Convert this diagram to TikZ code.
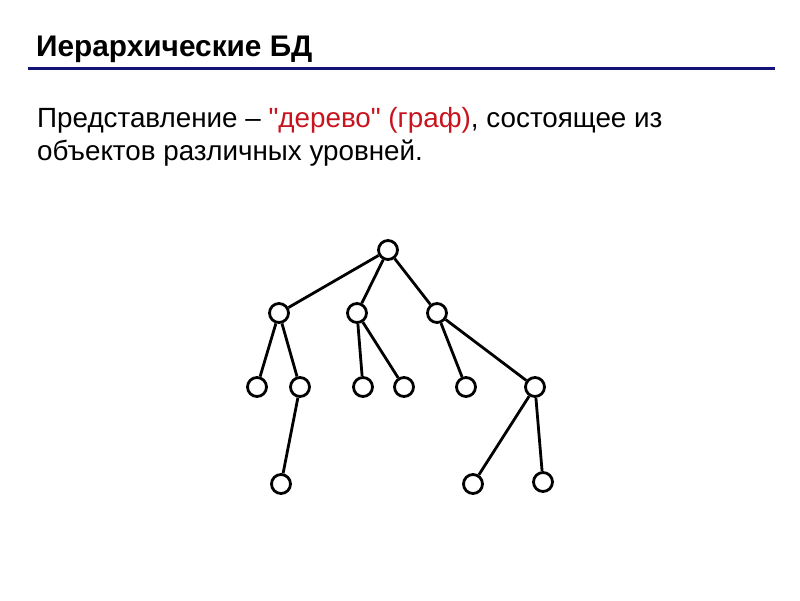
\documentclass[tikz,border=0pt]{standalone}
\usepackage{fontspec}
\setmainfont{Liberation Sans}[Ligatures=TeXOff]
\definecolor{navyline}{RGB}{20,20,120}
\definecolor{redtext}{RGB}{200,20,30}
\begin{document}
\begin{tikzpicture}[x=1pt,y=-1pt,
  vert/.style={circle,draw=black,line width=2.8pt,fill=white,minimum size=19pt,inner sep=0pt},
  edge/.style={line width=2.8pt}]
\useasboundingbox (0,0) rectangle (800,600);
\fill[white] (0,0) rectangle (800,600);
% title
\node[anchor=base west,inner sep=0pt,font=\fontsize{29.8}{32}\selectfont\bfseries] (title) at (36,56) {Иерархические БД};
\coordinate (l1) at (28,68.5);
\coordinate (l2) at (775,68.5);
\draw[navyline,line width=3pt] (l1) -- (l2);
% body text
\node[anchor=base west,inner sep=0pt,font=\fontsize{27.8}{32}\selectfont] (line1) at (37,127.5) {Представление – \textcolor{redtext}{"дерево" (граф)}, состоящее из};
\node[anchor=base west,inner sep=0pt,font=\fontsize{27.8}{32}\selectfont] (line2) at (37,160.5) {объектов различных уровней.};
% tree
\node[vert] (r) at (388,250) {};
\node[vert] (a) at (279,313) {};
\node[vert] (b) at (357,313) {};
\node[vert] (c) at (437,313) {};
\node[vert] (a1) at (257,387) {};
\node[vert] (a2) at (300,387) {};
\node[vert] (b1) at (363,387) {};
\node[vert] (b2) at (404,387) {};
\node[vert] (c1) at (466,387) {};
\node[vert] (c2) at (535,387) {};
\node[vert] (a21) at (281,484) {};
\node[vert] (c21) at (473,484) {};
\node[vert] (c22) at (543,482) {};
\draw[edge] (r) -- (a);
\draw[edge] (r) -- (b);
\draw[edge] (r) -- (c);
\draw[edge] (a) -- (a1);
\draw[edge] (a) -- (a2);
\draw[edge] (b) -- (b1);
\draw[edge] (b) -- (b2);
\draw[edge] (c) -- (c1);
\draw[edge] (c) -- (c2);
\draw[edge] (a2) -- (a21);
\draw[edge] (c2) -- (c21);
\draw[edge] (c2) -- (c22);
\end{tikzpicture}
\end{document}
